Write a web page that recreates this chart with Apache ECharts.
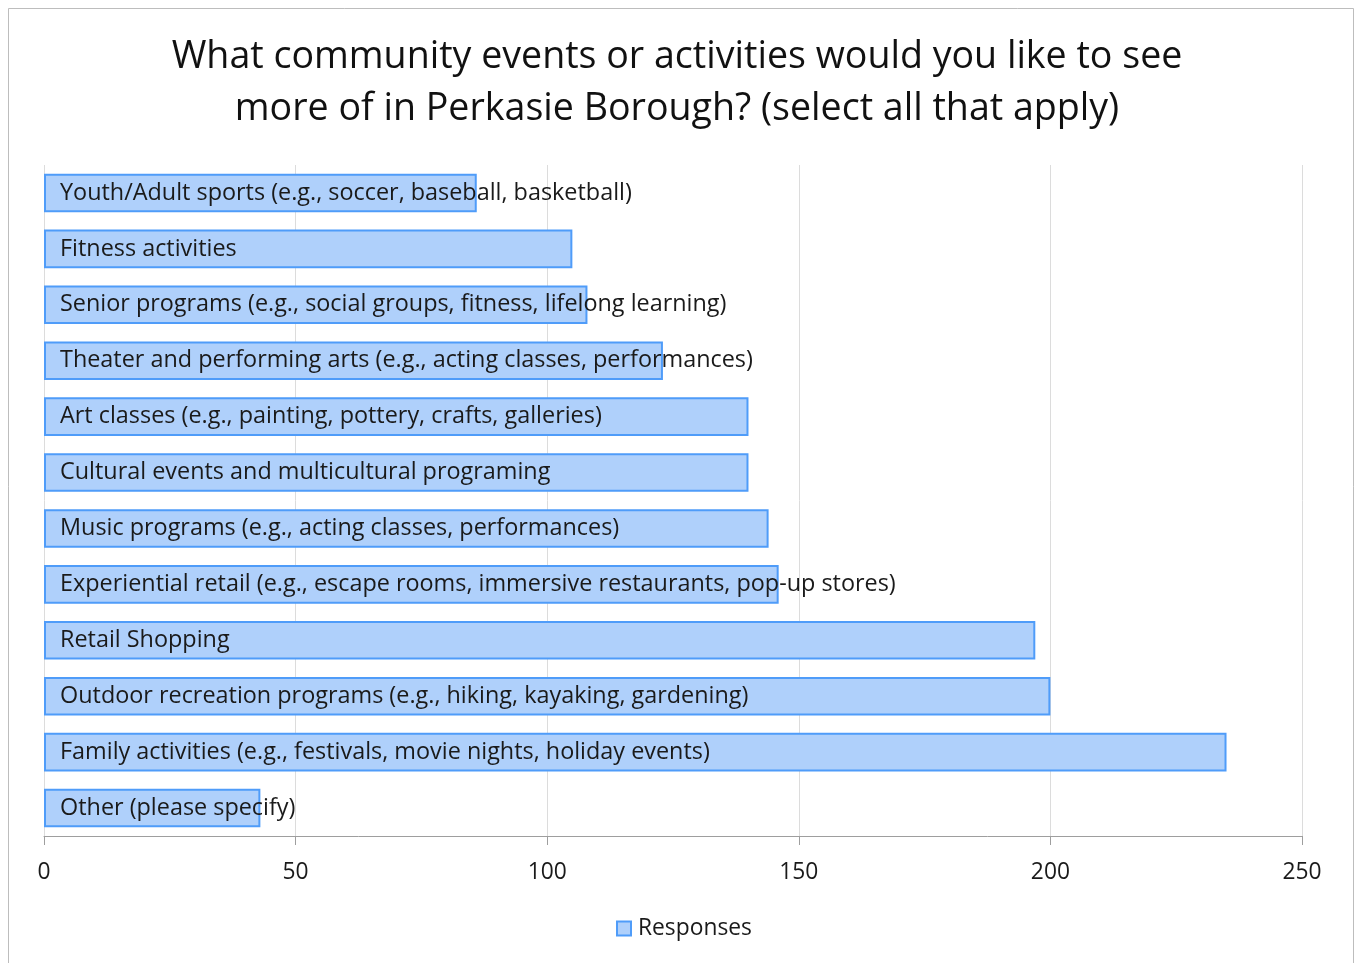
<!DOCTYPE html>
<html>
<head>
<meta charset="utf-8">
<script src="https://cdn.jsdelivr.net/npm/echarts@6/dist/echarts.min.js"></script>
<style>
  html, body { margin: 0; padding: 0; background: #ffffff; }
  #chart { width: 1354px; height: 963px; }
</style>
</head>
<body>
<div id="chart"></div>
<script>
// Survey answers, top to bottom
const categories = [
  "Youth/Adult sports (e.g., soccer, baseball, basketball)",
  "Fitness activities",
  "Senior programs (e.g., social groups, fitness, lifelong learning)",
  "Theater and performing arts (e.g., acting classes, performances)",
  "Art classes (e.g., painting, pottery, crafts, galleries)",
  "Cultural events and multicultural programing",
  "Music programs (e.g., acting classes, performances)",
  "Experiential retail (e.g., escape rooms, immersive restaurants, pop-up stores)",
  "Retail Shopping",
  "Outdoor recreation programs (e.g., hiking, kayaking, gardening)",
  "Family activities (e.g., festivals, movie nights, holiday events)",
  "Other (please specify)"
];
const responses = [86, 105, 108, 123, 140, 140, 144, 146, 197, 200, 235, 43];
const seriesName = "Responses";
const titleText = "What community events or activities would you like to see\nmore of in Perkasie Borough? (select all that apply)";

const FONT = "'Open Sans', 'Noto Sans', sans-serif";
const chart = echarts.init(document.getElementById('chart'), null, { renderer: 'canvas' });

chart.setOption({
  backgroundColor: '#ffffff',
  animation: false,
  textStyle: { fontFamily: FONT },
  graphic: [{
    type: 'rect',
    left: 6, top: 6,
    shape: { width: 1345, height: 980 },
    style: { fill: 'none', stroke: '#bdbdbd', lineWidth: 1 },
    silent: true
  }],
  title: {
    text: titleText,
    left: 'center',
    top: 26,
    textStyle: {
      fontFamily: FONT,
      fontSize: 37.6,
      fontWeight: 'normal',
      color: '#111111',
      lineHeight: 52
    }
  },
  legend: {
    bottom: 18,
    left: 611,
    itemWidth: 14,
    itemHeight: 14,
    itemGap: 8,
    icon: 'rect',
    textStyle: { fontFamily: FONT, fontSize: 22.8, color: '#1a1a1a', padding: [0, 0, 0, 2] },
    data: [seriesName]
  },
  grid: { left: 44, right: 52, top: 165, bottom: 127, containLabel: false },
  xAxis: {
    type: 'value',
    min: 0, max: 250, interval: 50,
    axisLine: { show: true, lineStyle: { color: '#9e9e9e', width: 1 } },
    axisTick: { show: true, length: 9, lineStyle: { color: '#9e9e9e' } },
    splitLine: { show: true, lineStyle: { color: '#dcdcdc', width: 1 } },
    axisLabel: { fontFamily: FONT, fontSize: 22.8, color: '#1a1a1a', margin: 25 }
  },
  yAxis: {
    type: 'category',
    inverse: true,
    data: categories,
    axisLine: { show: false },
    axisTick: { show: false },
    axisLabel: { show: false }
  },
  series: [{
    name: seriesName,
    type: 'bar',
    data: responses,
    barCategoryGap: '31%',
    itemStyle: {
      color: '#afd0fb',
      borderColor: '#4f9cf9',
      borderWidth: 2
    },
    label: {
      show: true,
      position: 'insideLeft',
      distance: 16,
      offset: [0, 2],
      formatter: '{b}',
      fontFamily: FONT,
      fontSize: 23.4,
      color: '#1a1a1a'
    },
    labelLayout: { hideOverlap: false }
  }]
});
</script>
</body>
</html>
